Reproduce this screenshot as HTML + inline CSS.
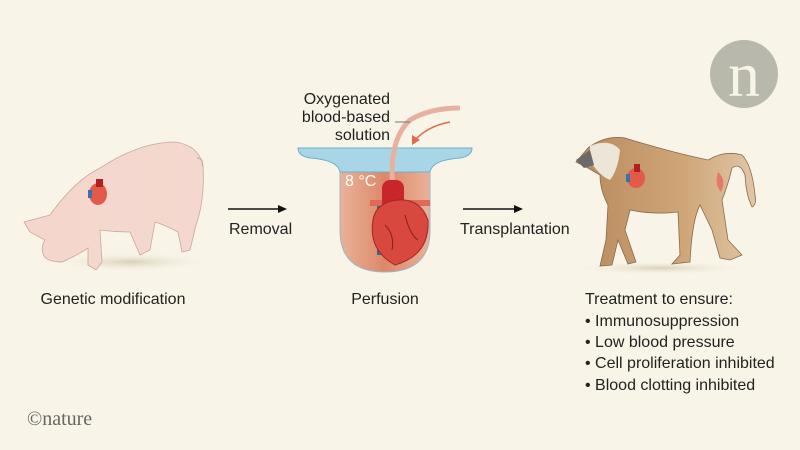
<!DOCTYPE html>
<html><head><meta charset="utf-8"><style>
html,body{margin:0;padding:0;background:#f8f4e8;}
svg{display:block;}
text{font-family:"Liberation Sans",sans-serif;font-size:16px;fill:#222;}
</style></head><body>
<svg width="800" height="450" viewBox="0 0 800 450">
<defs>
<linearGradient id="pig" x1="0" x2="1"><stop offset="0" stop-color="#f5d6cc"/><stop offset="1" stop-color="#f4d8cf"/></linearGradient>
<linearGradient id="bab" x1="0" x2="1"><stop offset="0" stop-color="#b88a5c"/><stop offset="0.6" stop-color="#cfa678"/><stop offset="1" stop-color="#e0c6a6"/></linearGradient>
<linearGradient id="cup" x1="0" x2="1"><stop offset="0" stop-color="#eab29a"/><stop offset="0.5" stop-color="#dc8868"/><stop offset="1" stop-color="#eab29a"/></linearGradient>
<radialGradient id="sh"><stop offset="0" stop-color="#d8d0b8"/><stop offset="1" stop-color="#f8f4e8" stop-opacity="0"/></radialGradient>
</defs>
<circle cx="744" cy="74" r="34" fill="#b9b8ad"/>
<text x="744" y="96" text-anchor="middle" style="font-family:'Liberation Serif',serif;font-size:64px;fill:#f8f4e8">n</text>
<!-- pig -->
<ellipse cx="130" cy="262" rx="80" ry="10" fill="url(#sh)"/>
<path d="M24,222 L50,215 Q75,180 100,168 Q140,142 175,142 Q198,145 203,165 Q205,200 196,225 L190,250 L182,252 L178,232 Q165,225 155,222 L150,250 L140,255 L130,232 Q115,232 100,230 L102,262 L96,270 L88,265 L88,248 Q78,255 62,262 Q48,262 44,256 Q40,248 45,240 L30,232 Z" fill="url(#pig)" stroke="#c9a89c" stroke-width="0.8"/>
<path d="M197,158 Q204,158 202,166" fill="none" stroke="#c9a89c"/>
<g transform="translate(98,194)"><ellipse cx="0" cy="0" rx="9" ry="11" fill="#e25a4a"/><rect x="-2" y="-15" width="7" height="8" fill="#b02020"/><rect x="-10" y="-4" width="4" height="8" fill="#3a6fb0"/></g>
<!-- arrows -->
<line x1="228" y1="209" x2="282" y2="209" stroke="#111" stroke-width="1.5"/><path d="M287,209 L278,205 L278,213Z" fill="#111"/>
<line x1="463" y1="209" x2="518" y2="209" stroke="#111" stroke-width="1.5"/><path d="M523,209 L514,205 L514,213Z" fill="#111"/>
<!-- cup -->
<path d="M340,160 L430,160 L430,230 Q430,272 385,272 Q340,272 340,230 Z" fill="url(#cup)" stroke="#9bb8c4" stroke-width="1"/>
<path d="M298,148 L472,148 Q472,156 460,158 Q432,160 430,172 L340,172 Q338,160 310,158 Q298,156 298,148Z" fill="#a9d6e6" stroke="#6fb0cc"/>
<path d="M393,190 Q388,140 410,120 Q430,108 460,108" fill="none" stroke="#e7b0a0" stroke-width="5"/>
<path d="M450,122 Q428,126 415,140" fill="none" stroke="#e06a4a" stroke-width="1.5"/><path d="M412,145 L412,135 L420,140Z" fill="#e06a4a"/>
<line x1="395" y1="122" x2="410" y2="122" stroke="#777"/>
<rect x="377" y="205" width="10" height="50" fill="#2e6a9a"/>
<path d="M370,200 L430,200 L430,206 L370,206Z" fill="#e06a5a"/>
<rect x="382" y="180" width="22" height="30" rx="8" fill="#c8262a"/>
<path d="M373,220 Q368,250 395,265 Q430,255 428,220 Q420,198 398,200 Q376,202 373,220Z" fill="#d9483e" stroke="#9c2a24"/>
<path d="M385,225 Q395,235 392,250 M405,215 Q410,235 418,240" fill="none" stroke="#8a1e1a"/>
<text x="345" y="186" style="fill:#fff;font-size:16px">8 °C</text>
<!-- baboon -->
<ellipse cx="660" cy="268" rx="90" ry="7" fill="url(#sh)"/>
<path d="M588,148 Q605,135 625,138 Q670,152 708,160 Q725,150 742,155 Q752,165 755,195 Q757,205 752,207 Q746,195 745,175 Q740,162 732,168 Q728,185 722,200 L728,240 L742,255 L730,260 L720,258 L712,230 L700,205 Q692,220 690,262 L672,264 L680,255 L678,212 Q655,215 630,210 L625,230 L636,262 L628,264 L618,240 L612,265 L600,266 L606,240 L608,205 Q600,190 600,175 L588,168 L576,162 Z" fill="url(#bab)" stroke="#8a6a4a" stroke-width="0.8"/>
<path d="M590,146 Q610,138 620,150 Q618,170 610,180 Q598,175 590,160Z" fill="#ebe6d8"/>
<path d="M576,160 L590,150 L594,165 L584,168Z" fill="#6a6a6a"/>
<path d="M718,172 Q727,180 721,192 Q714,184 718,172Z" fill="#e8786a"/>
<g transform="translate(636,178)"><ellipse cx="0" cy="0" rx="9" ry="10" fill="#e25a4a"/><rect x="-2" y="-14" width="6" height="8" fill="#b02020"/><rect x="-10" y="-4" width="4" height="8" fill="#3a6fb0"/></g>
<!-- labels -->
<text x="113" y="304" text-anchor="middle">Genetic modification</text>
<text x="229" y="234">Removal</text>
<text x="460" y="234">Transplantation</text>
<text x="385" y="304" text-anchor="middle">Perfusion</text>
<text x="390" y="104" text-anchor="end">Oxygenated</text>
<text x="390" y="122" text-anchor="end">blood-based</text>
<text x="390" y="140" text-anchor="end">solution</text>
<text x="585" y="304">Treatment to ensure:</text>
<text x="585" y="326">• Immunosuppression</text>
<text x="585" y="347">• Low blood pressure</text>
<text x="585" y="368">• Cell proliferation inhibited</text>
<text x="585" y="390">• Blood clotting inhibited</text>
<text x="27" y="425" style="font-family:'Liberation Serif',serif;font-size:20px;fill:#666">©nature</text>
</svg>
</body></html>
